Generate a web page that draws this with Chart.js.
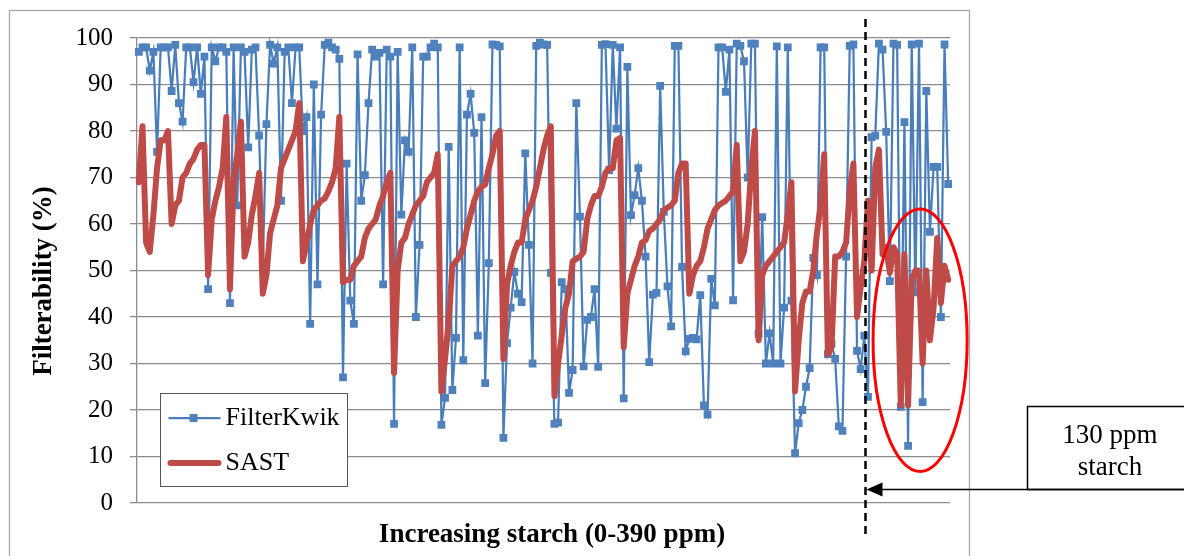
<!DOCTYPE html>
<html>
<head>
<meta charset="utf-8">
<script src="https://cdn.jsdelivr.net/npm/chart.js@4.4.1/dist/chart.umd.min.js"></script>
<style>
  html, body { margin: 0; padding: 0; background: #fff; }
</style>
</head>
<body>
<canvas id="chart" width="1184" height="556"></canvas>
<script>
// Filterability vs increasing starch — FilterKwik vs SAST

// ---- data (one value per sample) ----
const filterKwik = [
  97, 98, 98, 93, 97, 75.5, 98, 98, 98, 88.6, 98.5, 86, 82, 98, 98, 90.5, 98, 88, 96, 46,
  98, 95, 98, 98, 97, 43, 98, 64, 98, 97, 76.5, 97.5, 98, 79, 51, 81.5, 98.5, 94.5, 98, 65,
  97, 98, 86,
  98, 98, 80, 83, 38.5, 90, 47, 83.5, 98.5, 99, 98, 97.5, 95.5, 27, 73, 43.5, 38.5, 96.5, 65, 70.5,
  86, 97.5, 96, 96.8, 47, 97.5, 96, 17, 97, 62, 78, 75.5, 98, 40, 55.5, 96, 96, 98, 98.8, 98,
  16.8, 22.6, 76.6, 24.3, 35.5, 98, 30.7, 83.5, 88, 79.6, 36, 83, 25.8, 51.6, 98.6, 98.5, 98.2,
  14, 34.4,
  42, 49.7, 45, 43.2, 75.2, 55.5, 30, 98.3, 99, 98.6, 98.5, 49.5, 17, 17.3, 47.5, 46, 23.7, 28.6,
  86, 61.6, 29.4, 39.4, 40, 46, 29.3, 98.5, 98.7, 71.6, 98.5, 80.5, 98, 22.5, 93.8, 61.9,
  66.2, 72, 65, 53, 30.3, 44.8, 45.2, 89.7, 62.6, 46.6, 38, 98.3, 98.3, 50.8, 32.6,
  35.3, 35.5, 35.2, 44.7, 21, 19, 48.2, 42.5, 98, 98, 88.4, 97.5, 43.6, 98.8, 98.3, 95, 70,
  98.8, 98.8, 36.4, 61.5, 30, 36.5, 30, 98.2, 30, 42, 98, 43.5, 10.7, 17.2, 20, 25, 29,
  52.7, 49, 98, 98, 32, 34.2, 31, 16.5, 15.5, 53, 98.3, 98.6, 32.7, 28.8, 36, 22.8, 78.7, 79,
  98.8, 97.5, 79.8, 47.7, 98.8, 98.5, 20.7, 81.9, 12.3, 98.6, 45.3, 98.8, 21.7, 88.6, 58.3,
  72.3, 72.3, 40, 98.6, 68.6,
];

const sast = [
  69, 81, 56, 54, 62, 72, 78, 78, 80, 60, 64, 65, 70, 71, 73, 74, 76, 77, 77, 49,
  61, 65, 68, 72, 83, 46, 69, 75, 82, 53, 56, 62, 66, 71, 45, 49, 58, 61, 64, 72,
  74, 76, 78,
  80, 86, 52, 56, 60, 63, 64, 65, 65.5, 67, 69, 72, 83, 47.5, 48, 48, 51, 52, 53, 57,
  59, 60, 61, 64, 66, 69, 71, 28, 50, 56, 57, 60, 62, 64, 65, 66, 69, 70, 71, 75,
  24, 31, 39, 51, 52, 53, 55, 59, 62, 65, 67, 68, 68.5, 72, 75, 79, 80,
  31, 47,
  51, 54, 56, 56, 61, 63, 65, 68, 72, 76, 79, 81, 23, 30, 36, 42, 45, 52,
  52.5, 53, 54, 61, 64, 66, 66, 68, 71, 72, 72, 78, 78.5, 33.5, 45, 48,
  51, 53, 56, 56.5, 58.5, 59, 60, 61, 63, 63.5, 64, 65, 71, 73, 73,
  45, 49, 51, 52, 55, 59, 61, 63, 64, 64.5, 65, 66, 67, 77, 52, 54, 60,
  72, 80, 35, 49, 51, 52, 53, 54, 55, 56, 62, 69, 24, 35, 43, 45.5, 45.5,
  50, 58, 64, 75, 32, 33.5, 53, 53, 54, 56, 67, 73, 40, 46.5, 52, 65, 50, 72,
  76, 53.5, 55, 49.5, 55, 53.5, 21, 53.5, 21, 48, 50, 50, 30, 50, 35,
  42, 57, 43, 51, 48,
];

// samples along the starch axis (no tick labels shown)
const samples = filterKwik.map((_, i) => String(i + 1));

const yTicks = [0, 10, 20, 30, 40, 50, 60, 70, 80, 90, 100];
const seriesNames = ['FilterKwik', 'SAST'];
const xTitle = 'Increasing starch (0-390 ppm)';
const yTitle = 'Filterability (%)';
const noteLines = ['130 ppm', 'starch'];

// where the 130 ppm dose starts, and the circled region (sample index / %)
const DIVIDER_AT = 199.3;
const CIRCLE = { x: 214.3, y: 35, rx: 12.9, ry: 28.2 };

const BLUE = '#4A7EBB';
const RED = '#BE4B48';
const SERIF = '"Liberation Serif", "Times New Roman", serif';

// ---- plugins ----
const background = {
  id: 'background',
  beforeDraw(chart) {
    const { ctx, width, height } = chart;
    ctx.save();
    ctx.fillStyle = '#fff';
    ctx.fillRect(0, 0, width, height);
    ctx.strokeStyle = '#a6a6a6';
    ctx.lineWidth = 1.3;
    ctx.strokeRect(9.5, 10.5, 960, 600); // excel chart frame
    ctx.restore();
  },
};

// axis titles, placed like the excel original
const titles = {
  id: 'titles',
  afterDraw(chart) {
    const { ctx, chartArea } = chart;
    ctx.save();
    ctx.fillStyle = '#000';
    ctx.font = `bold 27px ${SERIF}`;
    ctx.textAlign = 'center';
    ctx.textBaseline = 'middle';
    ctx.fillText(xTitle, chartArea.left + 415, 535);
    ctx.translate(44, chartArea.top + 243);
    ctx.rotate(-Math.PI / 2);
    ctx.fillText(yTitle, 0, 0);
    ctx.restore();
  },
};

const boxLegend = {
  id: 'boxLegend',
  afterDatasetsDraw(chart) {
    const { ctx, chartArea } = chart;
    const x0 = chartArea.left + 23.5, y0 = 393.5, w = 187, h = 93;
    ctx.save();
    ctx.fillStyle = '#fff';
    ctx.fillRect(x0, y0, w, h);
    ctx.strokeStyle = '#555';
    ctx.lineWidth = 1;
    ctx.strokeRect(x0, y0, w, h);

    const rows = [y0 + 24.5, y0 + 69.5];
    // FilterKwik
    ctx.strokeStyle = BLUE;
    ctx.lineWidth = 2.25;
    ctx.beginPath(); ctx.moveTo(x0 + 8, rows[0]); ctx.lineTo(x0 + 60, rows[0]); ctx.stroke();
    ctx.fillStyle = '#4F81BD';
    ctx.fillRect(x0 + 29, rows[0] - 4, 8, 8);
    // SAST
    ctx.strokeStyle = RED;
    ctx.lineWidth = 6;
    ctx.lineCap = 'round';
    ctx.beginPath(); ctx.moveTo(x0 + 10, rows[1]); ctx.lineTo(x0 + 58, rows[1]); ctx.stroke();

    ctx.fillStyle = '#000';
    ctx.font = `26px ${SERIF}`;
    ctx.textBaseline = 'middle';
    ctx.textAlign = 'left';
    ctx.fillText(seriesNames[0], x0 + 65, rows[0]);
    ctx.fillText(seriesNames[1], x0 + 65, rows[1]);
    ctx.restore();
  },
};

const notes = {
  id: 'notes',
  afterDraw(chart) {
    const { ctx, scales: { x, y } } = chart;
    ctx.save();

    // dashed divider
    const dx = Math.round(x.getPixelForValue(DIVIDER_AT)) + 0.5;
    ctx.strokeStyle = '#000';
    ctx.lineWidth = 2.5;
    ctx.setLineDash([8, 5]);
    ctx.beginPath(); ctx.moveTo(dx, 19); ctx.lineTo(dx, 537); ctx.stroke();
    ctx.setLineDash([]);

    // red circle
    const cx = x.getPixelForValue(CIRCLE.x);
    const cy = y.getPixelForValue(CIRCLE.y);
    const rx = x.getPixelForValue(CIRCLE.x + CIRCLE.rx) - cx;
    const ry = cy - y.getPixelForValue(CIRCLE.y + CIRCLE.ry);
    ctx.strokeStyle = '#FF0000';
    ctx.lineWidth = 3;
    ctx.beginPath(); ctx.ellipse(cx, cy, rx, ry, 0, 0, Math.PI * 2); ctx.stroke();

    // arrow from the note box to the divider
    const ay = 489.5;
    ctx.strokeStyle = '#000';
    ctx.lineWidth = 1.6;
    ctx.beginPath(); ctx.moveTo(chart.width, ay); ctx.lineTo(dx + 12, ay); ctx.stroke();
    ctx.fillStyle = '#000';
    ctx.beginPath();
    ctx.moveTo(dx + 1, ay);
    ctx.lineTo(dx + 17, ay - 7);
    ctx.lineTo(dx + 17, ay + 7);
    ctx.closePath(); ctx.fill();

    // note box
    ctx.lineWidth = 1.5;
    ctx.strokeRect(1027.5, 406.5, 200, ay - 406.5);
    ctx.font = `27px ${SERIF}`;
    ctx.textAlign = 'center';
    ctx.textBaseline = 'middle';
    ctx.fillText(noteLines[0], 1110, 436);
    ctx.fillText(noteLines[1], 1110, 468);
    ctx.restore();
  },
};

// ---- chart ----
new Chart(document.getElementById('chart'), {
  type: 'line',
  data: {
    labels: samples,
    datasets: [
      {
        label: seriesNames[0],
        data: filterKwik,
        order: 1,
        borderColor: BLUE,
        borderWidth: 2.25,
        tension: 0,
        pointStyle: 'rect',
        pointRadius: 5.5,
        pointBackgroundColor: '#4F81BD',
        pointBorderColor: '#4F81BD',
        pointBorderWidth: 0,
      },
      {
        label: seriesNames[1],
        data: sast,
        order: 0,
        borderColor: RED,
        borderWidth: 6,
        borderJoinStyle: 'round',
        borderCapStyle: 'round',
        tension: 0,
        pointRadius: 0,
      },
    ],
  },
  options: {
    responsive: false,
    animation: false,
    events: [],
    layout: { padding: { top: 38, right: 234, bottom: 0, left: 0 } },
    plugins: { legend: { display: false }, tooltip: { enabled: false } },
    scales: {
      x: {
        type: 'category',
        offset: true,
        ticks: { display: false },
        grid: { display: false },
        border: { display: false },
        afterFit: s => { s.height = 53; },
      },
      y: {
        min: 0,
        max: 100,
        afterBuildTicks: s => { s.ticks = yTicks.map(v => ({ value: v })); },
        ticks: { color: '#000', font: { family: SERIF, size: 25 }, padding: 17 },
        grid: { color: '#8c8c8c', lineWidth: 1.3, tickLength: 7, drawTicks: true },
        border: { color: '#8c8c8c', width: 1.3 },
        afterFit: s => { s.width = 137; },
      },
    },
  },
  plugins: [background, boxLegend, notes, titles],
});
</script>
</body>
</html>
